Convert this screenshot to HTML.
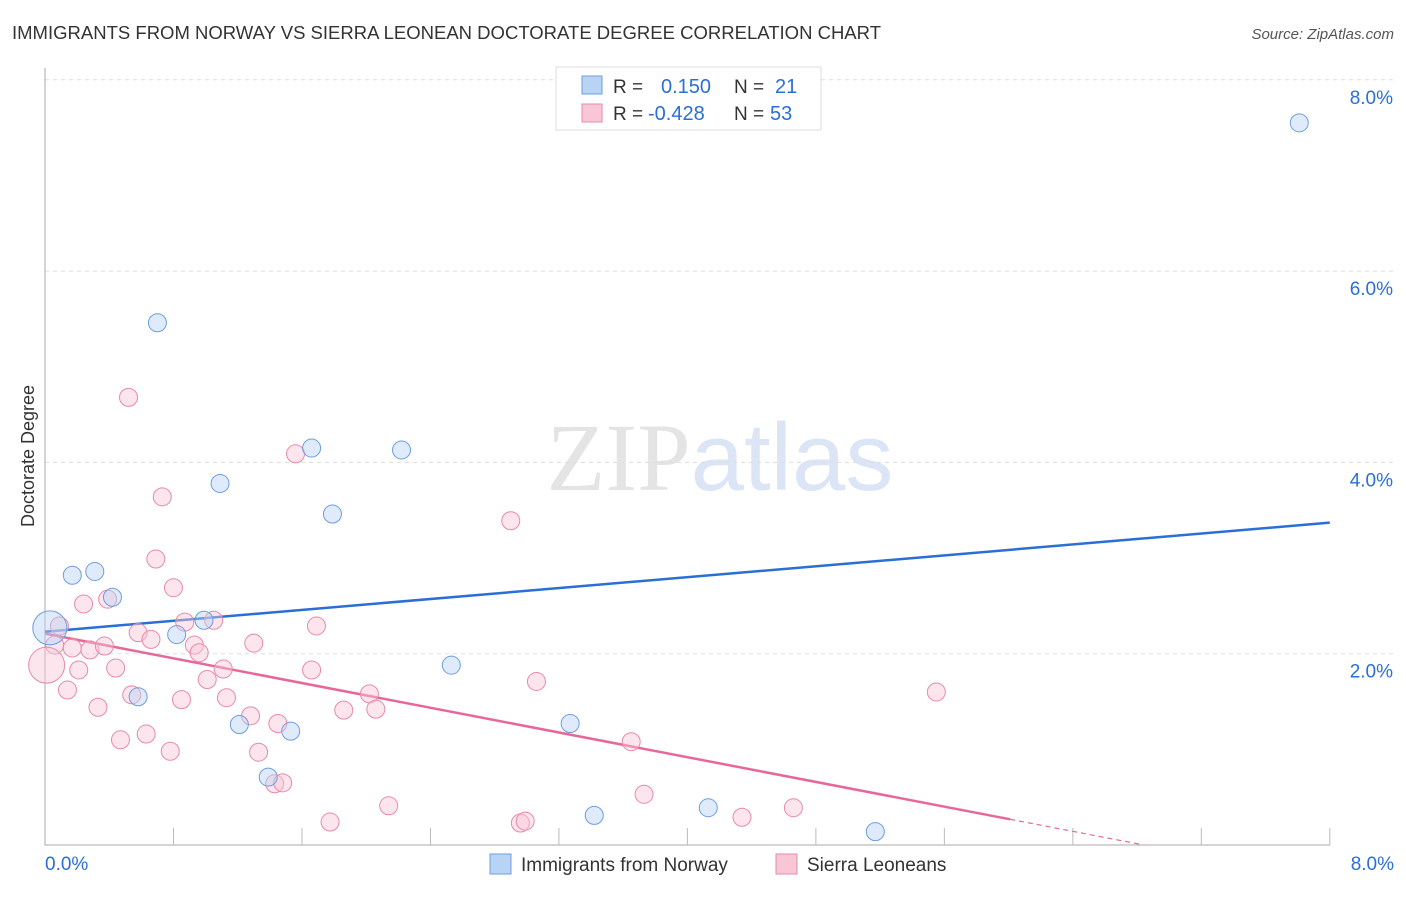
<!DOCTYPE html>
<html><head><meta charset="utf-8"><style>
body{margin:0;background:#fff;font-family:"Liberation Sans",sans-serif;}
svg text{font-family:"Liberation Sans",sans-serif;}
</style></head><body>
<svg id="chart" width="1406" height="892" xmlns="http://www.w3.org/2000/svg">
<text x="12" y="39" font-size="18.5" fill="#333" textLength="869" lengthAdjust="spacingAndGlyphs">IMMIGRANTS FROM NORWAY VS SIERRA LEONEAN DOCTORATE DEGREE CORRELATION CHART</text>
<text x="1394" y="39" font-size="15" fill="#555" text-anchor="end" font-style="italic">Source: ZipAtlas.com</text>
<text x="720" y="490" font-size="96" text-anchor="middle"><tspan fill="#e4e4e4" font-family="Liberation Serif">ZIP</tspan><tspan fill="#dbe5f6">atlas</tspan></text>
<text transform="translate(34,456) rotate(-90)" font-size="18" fill="#333" text-anchor="middle">Doctorate Degree</text>
<g id="grid"></g><g id="axes"></g><g id="lines"></g><g id="points"></g>
<g>
<rect x="556" y="67" width="265" height="63" fill="#fff" stroke="#ddd"/>
<rect x="582" y="76" width="20" height="18" fill="#b9d3f5" stroke="#6d9de0"/>
<text x="613" y="93" font-size="19" fill="#333">R =</text><text x="661" y="93" font-size="20" fill="#2a6fd6">0.150</text>
<text x="734" y="93" font-size="19" fill="#333">N =</text><text x="775" y="93" font-size="20" fill="#2a6fd6">21</text>
<rect x="582" y="104" width="20" height="18" fill="#f8c6d5" stroke="#e88aa8"/>
<text x="613" y="120" font-size="19" fill="#333">R =</text><text x="648" y="120" font-size="20" fill="#2a6fd6">-0.428</text>
<text x="734" y="120" font-size="19" fill="#333">N =</text><text x="770" y="120" font-size="20" fill="#2a6fd6">53</text>
</g>
<g>
<rect x="490" y="854" width="21" height="20" fill="#b9d3f5" stroke="#6d9de0"/>
<text x="521" y="871" font-size="19" fill="#333">Immigrants from Norway</text>
<rect x="776" y="854" width="21" height="20" fill="#f8c6d5" stroke="#e88aa8"/>
<text x="807" y="871" font-size="19" fill="#333">Sierra Leoneans</text>
</g>
</svg>
<script>
const blueX=[0.70,1.66,2.22,1.09,1.79,0.17,0.31,0.42,0.82,0.99,0.03,0.58,1.21,1.53,2.53,3.27,1.39,3.42,4.13,5.17,7.81];
const blueY=[5.46,4.15,4.13,3.78,3.46,2.82,2.86,2.59,2.20,2.35,2.27,1.55,1.26,1.19,1.88,1.27,0.71,0.31,0.39,0.14,7.55];
const pinkX=[0.52,0.73,1.56,2.90,0.69,0.80,0.24,0.39,0.09,0.06,0.17,0.28,0.37,0.58,0.66,0.87,1.05,0.93,0.96,1.30,1.69,0.44,0.21,1.11,1.66,0.14,0.54,0.85,1.01,1.13,2.02,3.06,5.55,0.33,1.28,1.45,1.86,2.06,0.47,0.63,0.78,1.33,3.65,1.43,1.48,2.14,3.73,1.775,2.96,2.99,4.34,4.66,0.01];
const pinkY=[4.68,3.64,4.09,3.39,2.99,2.69,2.52,2.57,2.29,2.09,2.06,2.04,2.08,2.22,2.15,2.33,2.35,2.09,2.01,2.11,2.29,1.85,1.83,1.84,1.83,1.62,1.57,1.52,1.73,1.54,1.58,1.71,1.60,1.44,1.35,1.27,1.41,1.42,1.10,1.16,0.98,0.97,1.08,0.64,0.65,0.41,0.53,0.24,0.23,0.25,0.29,0.39,1.88];
const blueSizes=[9,9,9,9,9,9,9,9,9,9,17,9,9,9,9,9,9,9,9,9,9];
const pinkBig=52;
const yTicks=[2,4,6,8];
const xTickLabels=["0.0%","8.0%"];
const blueTrend=[2.23,3.37];
const pinkTrend=[2.21,-0.323];
const X0=45,X1=1330,Y0=845,PX=160.6,PY=95.65;
const sx=v=>X0+v*PX, sy=v=>Y0-v*PY;
const NS="http://www.w3.org/2000/svg";
function mk(p,t,a){const e=document.createElementNS(NS,t);for(const k in a)e.setAttribute(k,a[k]);document.getElementById(p).appendChild(e);return e;}
yTicks.forEach(t=>{
 const l=mk('grid','line',{x1:X0,x2:1394,y1:sy(t),y2:sy(t),stroke:'#ddd','stroke-dasharray':'4,4'});
 
 
 const tx=mk('grid','text',{x:1393,y:sy(t)+24,'font-size':19,fill:'#2a6fd6','text-anchor':'end'});
 tx.textContent=t.toFixed(1)+'%';
 
 
});
const ax=mk('axes','path',{d:`M${X0} 68 V${Y0} H${X1}`,fill:'none',stroke:'#aaa'});


for(let i=1;i<=10;i++){const x=sx(i*0.8);const t=mk('axes','line',{x1:x,x2:x,y1:828,y2:Y0,stroke:'#bbb'});
 
 }
[[0,'start',45],[8,'end',1394]].forEach((d,i)=>{const t=mk('axes','text',{x:d[2],y:870,'font-size':19,fill:'#2a6fd6','text-anchor':d[1]});t.textContent=xTickLabels[i];
 
 });
const bl=mk('lines','line',{x1:sx(0),y1:sy(blueTrend[0]),x2:sx(8),y2:sy(blueTrend[1]),stroke:'#2a6fd6','stroke-width':2.5});


const pe=6.01,pd=6.82;
const pl=mk('lines','line',{x1:sx(0),y1:sy(pinkTrend[0]),x2:sx(pe),y2:sy(pinkTrend[0]+pinkTrend[1]*pe),stroke:'#e8679a','stroke-width':2.5});


const pld=mk('lines','line',{x1:sx(pe),y1:sy(pinkTrend[0]+pinkTrend[1]*pe),x2:sx(pd),y2:sy(pinkTrend[0]+pinkTrend[1]*pd),stroke:'#e8679a','stroke-width':1.2,'stroke-dasharray':'5,4'});


pinkX.forEach((v,i)=>{const c=mk('points','circle',{cx:sx(v),cy:sy(pinkY[i]),r:i==pinkBig?18:9,fill:'#f8c6d5','fill-opacity':0.45,stroke:'#e88aa8','stroke-width':1});
 
 });
blueX.forEach((v,i)=>{const c=mk('points','circle',{cx:sx(v),cy:sy(blueY[i]),r:blueSizes[i],fill:'#b9d3f5','fill-opacity':0.45,stroke:'#6d9de0','stroke-width':1});
 
 });
</script>
</body></html>
